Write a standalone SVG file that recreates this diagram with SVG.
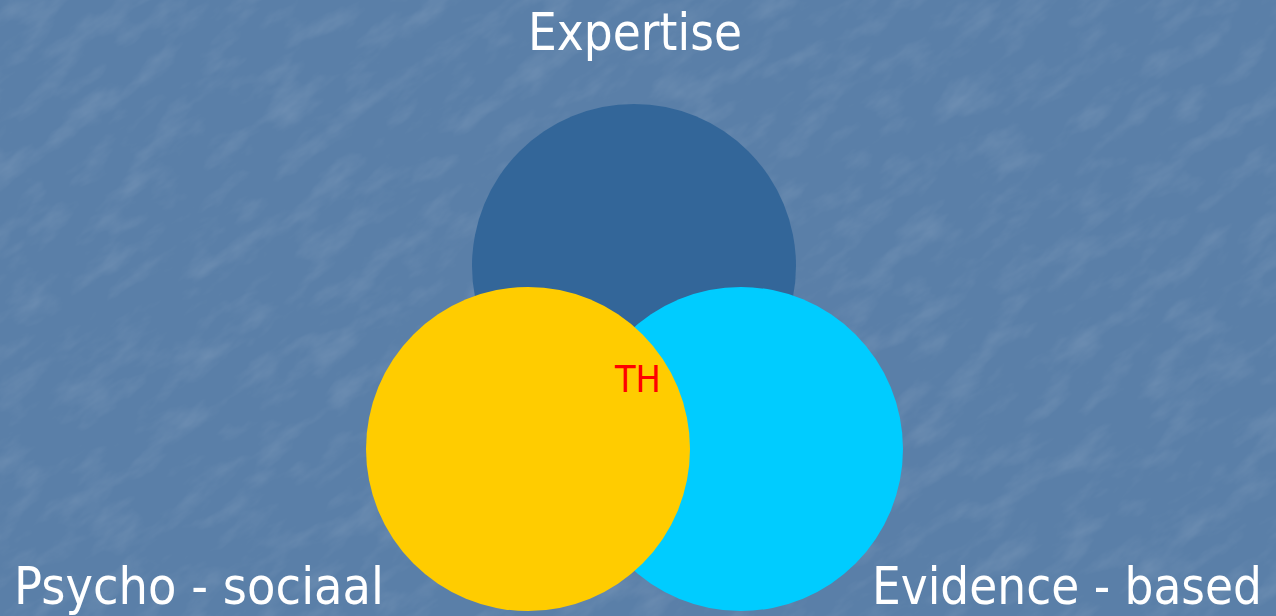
<svg xmlns="http://www.w3.org/2000/svg" width="1276" height="616" viewBox="0 0 1276 616">
  <defs>
    <filter id="grain" x="0" y="0" width="100%" height="100%">
      <feTurbulence type="fractalNoise" baseFrequency="0.018 0.045" numOctaves="4" seed="7" result="n"/>
      <feColorMatrix in="n" type="matrix" values="0 0 0 0 1  0 0 0 0 1  0 0 0 0 1  0 0 0 0.9 -0.42"/>
    </filter>
    <style>
      .label { font-family: Tahoma, "DejaVu Sans", sans-serif; fill: #ffffff; }
      .center { font-family: Tahoma, "DejaVu Sans", sans-serif; fill: #ff0000; }
    </style>
  </defs>

  <!-- textured blue backdrop -->
  <rect width="1276" height="616" fill="#5a7fa8"/>
  <g transform="rotate(-35 638 308)">
    <rect x="-400" y="-500" width="2100" height="1600" filter="url(#grain)" opacity="0.25"/>
  </g>

  <!-- three overlapping circles -->
  <g id="expertise-circle">
    <circle cx="634" cy="266" r="162" fill="#336699"/>
  </g>
  <g id="evidence-circle">
    <circle cx="741" cy="449" r="162" fill="#00ccff"/>
  </g>
  <g id="psycho-circle">
    <circle cx="528" cy="449" r="162" fill="#ffcc00"/>
  </g>

  <g id="connectors"/>

  <!-- labels -->
  <g id="expertise-label">
    <text class="label" x="528" y="50" font-size="52" textLength="214" lengthAdjust="spacingAndGlyphs">Expertise</text>
  </g>
  <g id="psycho-label">
    <text class="label" x="14" y="604" font-size="52" textLength="370" lengthAdjust="spacingAndGlyphs">Psycho - sociaal</text>
  </g>
  <g id="evidence-label">
    <text class="label" x="872" y="604" font-size="52" textLength="390" lengthAdjust="spacingAndGlyphs">Evidence - based</text>
  </g>
  <g id="th-label">
    <text class="center" x="615" y="392" font-size="37" textLength="46" lengthAdjust="spacingAndGlyphs">TH</text>
  </g>
</svg>
